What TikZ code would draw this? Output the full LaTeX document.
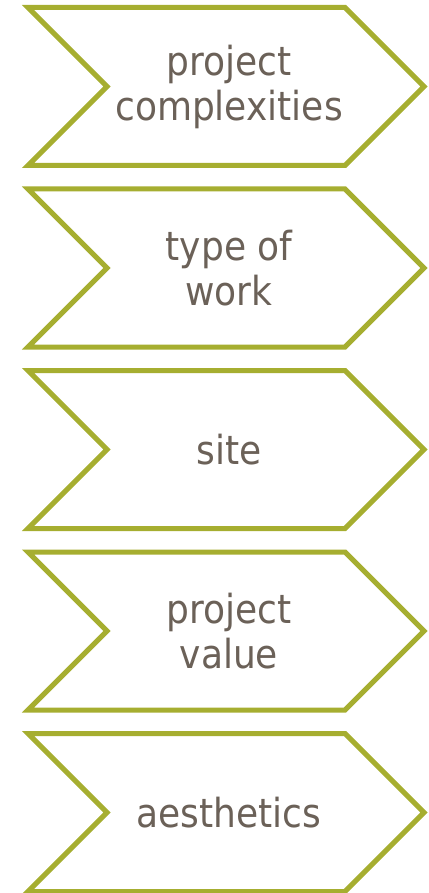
\documentclass[tikz,border=0pt]{standalone}
\usepackage{fontspec}
\setmainfont{DejaVu Sans Condensed}
\definecolor{olive}{RGB}{166,174,48}
\definecolor{taupe}{RGB}{107,97,88}
\tikzset{
	chevron/.style={line width=5pt,draw=olive,fill=white,miter limit=10},
	lbl/.style={text=taupe,align=center,font=\fontsize{40}{45}\selectfont}
}
\begin{document}
\begin{tikzpicture}[x=1pt,y=-1pt]
	\useasboundingbox (0,0) rectangle (428,893);
	\draw[chevron] (28,7.5) -- ++(317,0) -- ++(79,79) -- ++(-79,79) -- ++(-317,0) -- ++(79,-79) -- cycle; % first
	\draw[chevron] (28,189) -- ++(317,0) -- ++(79,79) -- ++(-79,79) -- ++(-317,0) -- ++(79,-79) -- cycle;
	\draw[chevron] (28,370.5) -- ++(317,0) -- ++(79,79) -- ++(-79,79) -- ++(-317,0) -- ++(79,-79) -- cycle;
	\draw[chevron] (28,552) -- ++(317,0) -- ++(79,79) -- ++(-79,79) -- ++(-317,0) -- ++(79,-79) -- cycle;
	\draw[chevron] (28,733.5) -- ++(317,0) -- ++(79,79) -- ++(-79,79) -- ++(-317,0) -- ++(79,-79) -- cycle; % last
	\node[lbl] (complexities) at (229,86.5) {project\\complexities};
	\node[lbl] (work) at (229,268) {type of\\work};
	\node[lbl] (site) at (229,449.5) {site};
	\node[lbl] (value) at (229,631) {project\\value};
	\node[lbl] (aesthetics) at (229,812.5) {aesthetics};
\end{tikzpicture}
\end{document}
